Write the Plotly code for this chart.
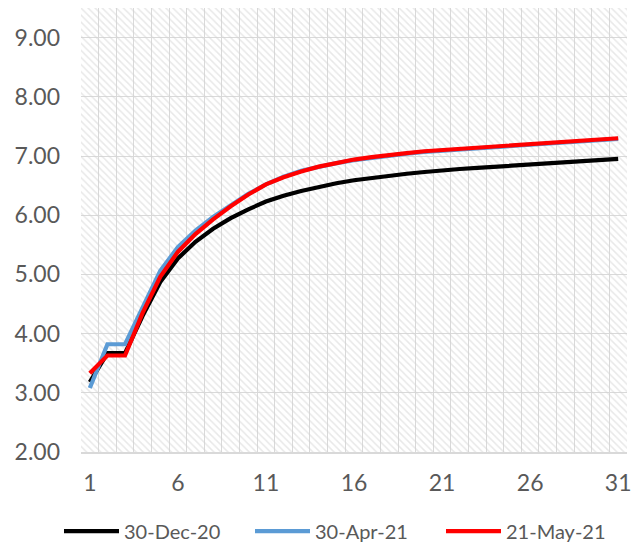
import plotly.graph_objects as go

tenor = list(range(1, 32))
tick_labels = ["1", "6", "11", "16", "21", "26", "31"]
tick_positions = [1, 6, 11, 16, 21, 26, 31]

s_dec20 = [3.18, 3.67, 3.67, 4.30, 4.87, 5.27, 5.55, 5.77, 5.95, 6.10,
           6.23, 6.33, 6.41, 6.48, 6.54, 6.59, 6.63, 6.67, 6.70, 6.73,
           6.76, 6.78, 6.80, 6.82, 6.84, 6.86, 6.88, 6.90, 6.92, 6.93, 6.95]
s_apr21 = [3.08, 3.82, 3.82, 4.45, 5.06, 5.46, 5.74, 5.97, 6.17, 6.36,
           6.52, 6.65, 6.75, 6.82, 6.88, 6.93, 6.97, 7.01, 7.04, 7.07,
           7.09, 7.12, 7.14, 7.16, 7.18, 7.20, 7.22, 7.24, 7.26, 7.28, 7.29]
s_may21 = [3.33, 3.63, 3.63, 4.35, 4.96, 5.38, 5.68, 5.93, 6.15, 6.35,
           6.52, 6.64, 6.74, 6.82, 6.88, 6.94, 6.98, 7.02, 7.05, 7.08,
           7.10, 7.13, 7.15, 7.17, 7.19, 7.21, 7.23, 7.25, 7.27, 7.29, 7.30]

names = ["30-Dec-20", "30-Apr-21", "21-May-21"]
colors = ["#000000", "#5B9BD5", "#FF0000"]

x_range = [0.5, 31.5]
y_range = [2.0, 9.5]

FONT = "Lato"
TXT = "#595959"
GRID = "#d9d9d9"

fig = go.Figure()

# hatched plot-area background
fig.add_trace(go.Scatter(
    x=[x_range[0], x_range[1], x_range[1], x_range[0], x_range[0]],
    y=[y_range[0], y_range[0], y_range[1], y_range[1], y_range[0]],
    mode="none", fill="toself", fillcolor="rgba(0,0,0,0)",
    fillpattern=dict(shape="\\", size=5, solidity=0.3,
                     fgcolor="#d2d2d2", bgcolor="rgba(0,0,0,0)"),
    showlegend=False, hoverinfo="skip"))

for name, col, ys in zip(names, colors, [s_dec20, s_apr21, s_may21]):
    fig.add_trace(go.Scatter(x=tenor, y=ys, name=name, mode="lines",
                             line=dict(color=col, width=4.2)))

fig.update_layout(
    width=633, height=540,
    margin=dict(l=73, r=14, t=0, b=96, autoexpand=False),
    paper_bgcolor="white", plot_bgcolor="white",
    font=dict(family=FONT, size=23, color=TXT),
    legend=dict(orientation="h", x=-0.0403, xanchor="left",
                y=-0.178, yanchor="middle",
                font=dict(size=20, color=TXT),
                itemwidth=55, entrywidth=121, traceorder="normal"),
    showlegend=True,
)
fig.update_xaxes(range=x_range, tickvals=tick_positions, ticktext=tick_labels,
                 showgrid=False, zeroline=False,
                 showline=True, linecolor=GRID, linewidth=2,
                 ticks="", ticklabelstandoff=9,
                 minor=dict(tick0=0.5, dtick=1, showgrid=True,
                            gridcolor=GRID, gridwidth=1.3))
fig.update_yaxes(range=y_range, dtick=1, tick0=0, tickformat=".2f",
                 showgrid=True, gridcolor=GRID, gridwidth=1.3,
                 zeroline=False, showline=False, ticks="",
                 ticklabelstandoff=20)

fig.write_html("out.html")
